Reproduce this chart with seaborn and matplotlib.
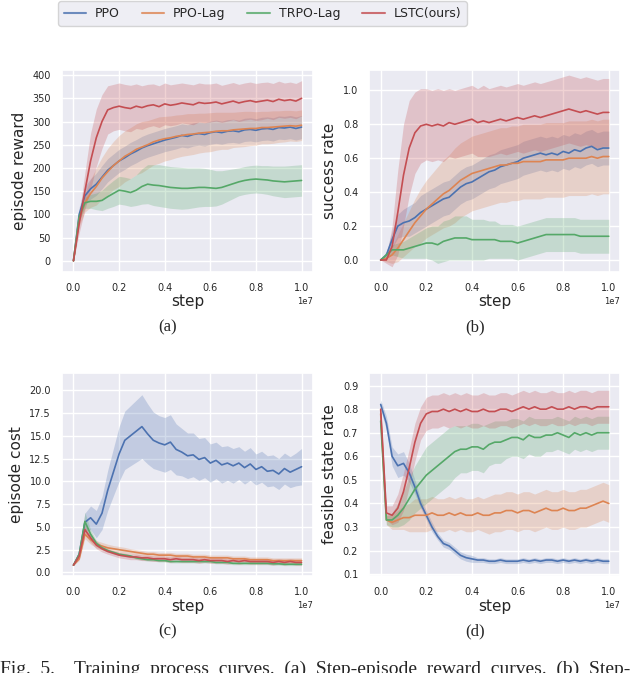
import numpy as np
import matplotlib
matplotlib.use('Agg')
import matplotlib.pyplot as plt
import seaborn as sns
from matplotlib.lines import Line2D

algos = ['PPO', 'PPO-Lag', 'TRPO-Lag', 'LSTC(ours)']

# training step (x 1e7)
steps = [0, 0.025, 0.05, 0.075, 0.1, 0.125, 0.15, 0.175, 0.2, 0.225, 0.25, 0.275, 0.3, 0.325,
         0.35, 0.375, 0.4, 0.425, 0.45, 0.475, 0.5, 0.525, 0.55, 0.575, 0.6, 0.625, 0.65, 0.675,
         0.7, 0.725, 0.75, 0.775, 0.8, 0.825, 0.85, 0.875, 0.9, 0.925, 0.95, 0.975, 1.0]

# (a) episode reward
reward_ppo = [0, 100, 140, 155, 165, 180, 195, 205, 215, 222, 230, 236, 243, 248, 252, 256, 260, 263, 266, 270,
              268, 272, 274, 272, 276, 278, 276, 279, 280, 278, 282, 283, 281, 284, 285, 283, 287, 286, 288, 285, 288]
reward_ppo_sd = [0, 15, 20, 22, 24, 25, 25, 25, 25, 25, 25, 25, 25, 25, 25, 25, 25, 25, 25, 25,
                 25, 25, 25, 25, 25, 25, 25, 25, 25, 25, 25, 25, 25, 25, 25, 25, 25, 25, 25, 25, 25]
reward_ppolag = [0, 90, 125, 145, 160, 178, 192, 205, 215, 225, 232, 240, 245, 250, 256, 260, 263, 265, 268, 270,
                 272, 273, 275, 276, 277, 279, 280, 280, 282, 283, 284, 285, 285, 287, 287, 288, 289, 290, 291, 290, 292]
reward_ppolag_sd = [0, 15, 20, 30, 40, 45, 50, 52, 55, 55, 55, 55, 55, 52, 50, 50, 48, 47, 46, 45,
                    45, 44, 43, 42, 42, 41, 40, 40, 38, 38, 38, 37, 36, 35, 35, 35, 34, 34, 33, 33, 33]
reward_trpolag = [0, 95, 125, 128, 128, 130, 138, 145, 152, 150, 147, 152, 160, 165, 163, 162, 160, 158, 157, 156,
                  156, 157, 158, 158, 157, 156, 158, 162, 166, 170, 173, 175, 176, 175, 174, 172, 171, 170, 171, 172, 173]
reward_trpolag_sd = [0, 10, 12, 15, 18, 22, 25, 28, 30, 30, 30, 33, 38, 42, 44, 45, 45, 45, 45, 45,
                     44, 43, 42, 41, 40, 38, 36, 34, 32, 30, 30, 30, 30, 30, 31, 32, 33, 34, 34, 34, 34]
reward_lstc = [0, 80, 150, 215, 265, 300, 325, 330, 333, 330, 328, 333, 330, 334, 336, 332, 338, 335, 337, 340,
               338, 336, 341, 339, 340, 342, 338, 341, 344, 340, 343, 345, 342, 344, 346, 343, 348, 345, 347, 344, 350]
reward_lstc_sd = [0, 20, 40, 60, 62, 58, 52, 50, 50, 50, 50, 48, 47, 46, 45, 45, 45, 44, 44, 43,
                  43, 43, 42, 42, 41, 41, 40, 40, 40, 40, 40, 40, 40, 40, 39, 39, 39, 38, 38, 38, 38]

# (b) success rate
succ_ppo = [0, 0.03, 0.12, 0.20, 0.22, 0.23, 0.25, 0.28, 0.30, 0.32, 0.34, 0.36, 0.37, 0.40, 0.43, 0.45, 0.46, 0.48, 0.50, 0.52,
            0.53, 0.55, 0.56, 0.57, 0.58, 0.60, 0.61, 0.62, 0.63, 0.62, 0.63, 0.62, 0.64, 0.63, 0.65, 0.64, 0.66, 0.67, 0.65, 0.66, 0.66]
succ_ppo_sd = [0, 0.02, 0.05, 0.07, 0.08, 0.09, 0.09, 0.10, 0.10, 0.10, 0.10, 0.10, 0.10, 0.10, 0.10, 0.10, 0.10, 0.10, 0.10, 0.10,
               0.10, 0.10, 0.10, 0.10, 0.10, 0.10, 0.10, 0.10, 0.10, 0.10, 0.10, 0.10, 0.10, 0.10, 0.10, 0.10, 0.10, 0.10, 0.10, 0.10, 0.10]
succ_ppolag = [0, 0.01, 0.03, 0.07, 0.12, 0.17, 0.22, 0.26, 0.30, 0.33, 0.36, 0.39, 0.41, 0.44, 0.47, 0.49, 0.51, 0.52, 0.53, 0.54,
               0.55, 0.56, 0.56, 0.57, 0.57, 0.58, 0.58, 0.58, 0.58, 0.59, 0.59, 0.59, 0.59, 0.60, 0.60, 0.60, 0.60, 0.61, 0.60, 0.61, 0.61]
succ_ppolag_sd = [0, 0.02, 0.05, 0.08, 0.10, 0.12, 0.14, 0.16, 0.17, 0.18, 0.19, 0.20, 0.21, 0.22, 0.22, 0.22, 0.22, 0.22, 0.22, 0.22,
                  0.22, 0.22, 0.22, 0.22, 0.22, 0.22, 0.22, 0.22, 0.22, 0.22, 0.22, 0.22, 0.22, 0.22, 0.22, 0.22, 0.22, 0.22, 0.22, 0.22, 0.22]
succ_trpolag = [0, 0.03, 0.06, 0.06, 0.06, 0.07, 0.08, 0.09, 0.10, 0.10, 0.09, 0.11, 0.12, 0.13, 0.13, 0.13, 0.12, 0.12, 0.12, 0.12,
                0.12, 0.11, 0.11, 0.11, 0.10, 0.11, 0.12, 0.13, 0.14, 0.15, 0.15, 0.15, 0.15, 0.15, 0.15, 0.14, 0.14, 0.14, 0.14, 0.14, 0.14]
succ_trpolag_sd = [0, 0.02, 0.03, 0.04, 0.05, 0.06, 0.07, 0.08, 0.09, 0.10, 0.11, 0.12, 0.12, 0.13, 0.13, 0.13, 0.12, 0.12, 0.12, 0.11,
                   0.11, 0.10, 0.10, 0.10, 0.10, 0.10, 0.10, 0.10, 0.10, 0.10, 0.10, 0.10, 0.10, 0.10, 0.10, 0.10, 0.10, 0.10, 0.10, 0.10, 0.10]
succ_lstc = [0, 0, 0.08, 0.28, 0.50, 0.66, 0.75, 0.79, 0.80, 0.79, 0.80, 0.79, 0.81, 0.80, 0.81, 0.82, 0.83, 0.81, 0.82, 0.81,
             0.82, 0.83, 0.82, 0.83, 0.84, 0.83, 0.84, 0.85, 0.84, 0.85, 0.86, 0.87, 0.88, 0.89, 0.88, 0.87, 0.88, 0.87, 0.86, 0.87, 0.87]
succ_lstc_sd = [0, 0.02, 0.12, 0.25, 0.30, 0.28, 0.24, 0.22, 0.21, 0.21, 0.21, 0.21, 0.20, 0.20, 0.20, 0.20, 0.20, 0.20, 0.21, 0.20,
                0.20, 0.20, 0.20, 0.20, 0.20, 0.20, 0.20, 0.20, 0.20, 0.20, 0.20, 0.20, 0.20, 0.20, 0.20, 0.20, 0.20, 0.20, 0.20, 0.20, 0.20]

# (c) episode cost
cost_ppo = [0.8, 2.0, 5.5, 6.0, 5.3, 6.5, 9.0, 11.0, 13.0, 14.5, 15.0, 15.5, 16.0, 15.2, 14.5, 14.2, 14.0, 14.3, 13.5, 13.2,
            12.8, 12.9, 12.4, 12.6, 12.0, 12.3, 11.8, 12.0, 11.7, 12.0, 11.5, 11.9, 11.3, 11.6, 11.1, 11.2, 10.8, 11.4, 11.0, 11.3, 11.6]
cost_ppo_sd = [0, 0.5, 1.0, 1.3, 1.5, 1.8, 2.2, 2.6, 3.0, 3.2, 3.3, 3.4, 3.5, 3.3, 3.1, 3.0, 3.0, 3.0, 2.8, 2.6,
               2.5, 2.4, 2.3, 2.2, 2.1, 2.0, 2.0, 1.9, 1.9, 1.8, 1.8, 1.8, 1.7, 1.7, 1.7, 1.7, 1.7, 1.7, 1.7, 1.8, 2.0]
cost_ppolag = [0.8, 1.5, 4.2, 3.6, 3.1, 2.9, 2.7, 2.6, 2.5, 2.4, 2.3, 2.2, 2.1, 2.0, 2.0, 1.9, 1.9, 1.9, 1.8, 1.8,
               1.8, 1.7, 1.7, 1.7, 1.6, 1.6, 1.6, 1.6, 1.5, 1.5, 1.5, 1.4, 1.4, 1.4, 1.4, 1.3, 1.3, 1.3, 1.3, 1.3, 1.3]
cost_ppolag_sd = [0, 0.2, 0.5, 0.5, 0.4, 0.4, 0.4, 0.35, 0.35, 0.35, 0.3, 0.3, 0.3, 0.3, 0.3, 0.3, 0.3, 0.3, 0.3, 0.3,
                  0.3, 0.3, 0.3, 0.3, 0.3, 0.3, 0.3, 0.3, 0.3, 0.3, 0.3, 0.3, 0.3, 0.3, 0.3, 0.3, 0.3, 0.3, 0.3, 0.3, 0.3]
cost_trpolag = [0.8, 2.0, 5.6, 4.2, 3.2, 2.7, 2.4, 2.2, 2.0, 1.9, 1.8, 1.6, 1.5, 1.4, 1.4, 1.3, 1.3, 1.2, 1.2, 1.2,
                1.2, 1.2, 1.2, 1.2, 1.2, 1.1, 1.1, 1.1, 1.0, 1.0, 1.0, 1.0, 1.0, 1.0, 1.0, 0.95, 0.95, 0.9, 0.9, 0.9, 0.9]
cost_trpolag_sd = [0, 0.3, 1.0, 0.5, 0.3, 0.2, 0.15, 0.15, 0.15, 0.15, 0.15, 0.15, 0.15, 0.15, 0.15, 0.15, 0.15, 0.15, 0.15, 0.15,
                   0.15, 0.15, 0.15, 0.15, 0.15, 0.15, 0.15, 0.15, 0.15, 0.15, 0.15, 0.15, 0.15, 0.15, 0.15, 0.15, 0.15, 0.15, 0.15, 0.15, 0.15]
cost_lstc = [0.8, 1.8, 4.7, 3.8, 3.0, 2.6, 2.3, 2.1, 1.9, 1.8, 1.7, 1.7, 1.6, 1.6, 1.5, 1.5, 1.5, 1.4, 1.5, 1.4,
             1.4, 1.4, 1.3, 1.4, 1.3, 1.3, 1.3, 1.2, 1.3, 1.2, 1.3, 1.2, 1.2, 1.2, 1.2, 1.1, 1.2, 1.1, 1.2, 1.1, 1.1]
cost_lstc_sd = [0, 0.3, 0.6, 0.5, 0.4, 0.35, 0.3, 0.3, 0.3, 0.3, 0.3, 0.3, 0.3, 0.3, 0.3, 0.3, 0.3, 0.3, 0.3, 0.3,
                0.3, 0.3, 0.3, 0.3, 0.3, 0.3, 0.3, 0.3, 0.3, 0.3, 0.3, 0.3, 0.3, 0.3, 0.3, 0.3, 0.3, 0.3, 0.3, 0.3, 0.3]

# (d) feasible state rate
feas_ppo = [0.82, 0.74, 0.60, 0.56, 0.57, 0.53, 0.47, 0.40, 0.35, 0.30, 0.26, 0.23, 0.22, 0.20, 0.18, 0.17, 0.165, 0.16, 0.16, 0.155,
            0.155, 0.16, 0.155, 0.155, 0.155, 0.16, 0.155, 0.16, 0.155, 0.16, 0.16, 0.155, 0.16, 0.155, 0.16, 0.155, 0.16, 0.155, 0.16, 0.155, 0.155]
feas_ppo_sd = [0.02, 0.03, 0.04, 0.05, 0.05, 0.04, 0.03, 0.02, 0.02, 0.02, 0.015, 0.015, 0.015, 0.015, 0.015, 0.015, 0.015, 0.01, 0.01, 0.01,
               0.01, 0.01, 0.01, 0.01, 0.01, 0.01, 0.01, 0.01, 0.01, 0.01, 0.01, 0.01, 0.01, 0.01, 0.01, 0.01, 0.01, 0.01, 0.01, 0.01, 0.01]
feas_ppolag = [0.78, 0.33, 0.32, 0.33, 0.34, 0.34, 0.35, 0.35, 0.35, 0.36, 0.35, 0.35, 0.36, 0.35, 0.36, 0.35, 0.35, 0.36, 0.35, 0.35,
               0.36, 0.36, 0.37, 0.37, 0.36, 0.37, 0.37, 0.36, 0.37, 0.38, 0.37, 0.37, 0.38, 0.37, 0.37, 0.38, 0.38, 0.39, 0.40, 0.41, 0.40]
feas_ppolag_sd = [0.02, 0.02, 0.03, 0.04, 0.05, 0.06, 0.07, 0.07, 0.07, 0.07, 0.07, 0.07, 0.07, 0.07, 0.07, 0.07, 0.07, 0.07, 0.07, 0.08,
                  0.08, 0.08, 0.08, 0.08, 0.08, 0.08, 0.08, 0.08, 0.08, 0.08, 0.08, 0.08, 0.08, 0.08, 0.08, 0.08, 0.08, 0.08, 0.08, 0.08, 0.08]
feas_trpolag = [0.75, 0.33, 0.33, 0.35, 0.38, 0.42, 0.46, 0.49, 0.52, 0.54, 0.56, 0.58, 0.60, 0.62, 0.63, 0.63, 0.64, 0.64, 0.63, 0.65,
                0.66, 0.66, 0.67, 0.68, 0.68, 0.67, 0.69, 0.68, 0.68, 0.69, 0.69, 0.70, 0.69, 0.68, 0.70, 0.69, 0.70, 0.69, 0.70, 0.70, 0.70]
feas_trpolag_sd = [0.02, 0.02, 0.03, 0.05, 0.07, 0.09, 0.10, 0.11, 0.12, 0.12, 0.12, 0.12, 0.12, 0.11, 0.10, 0.10, 0.10, 0.10, 0.10, 0.09,
                   0.09, 0.09, 0.08, 0.08, 0.08, 0.08, 0.08, 0.08, 0.08, 0.07, 0.07, 0.07, 0.07, 0.07, 0.07, 0.07, 0.07, 0.07, 0.07, 0.07, 0.07]
feas_lstc = [0.80, 0.36, 0.35, 0.38, 0.45, 0.55, 0.66, 0.74, 0.78, 0.79, 0.79, 0.80, 0.79, 0.80, 0.79, 0.80, 0.79, 0.79, 0.80, 0.79,
             0.79, 0.80, 0.80, 0.79, 0.80, 0.81, 0.80, 0.81, 0.80, 0.80, 0.81, 0.80, 0.80, 0.81, 0.80, 0.81, 0.81, 0.80, 0.81, 0.81, 0.81]
feas_lstc_sd = [0.02, 0.03, 0.04, 0.06, 0.08, 0.08, 0.08, 0.07, 0.07, 0.07, 0.07, 0.07, 0.07, 0.07, 0.07, 0.07, 0.07, 0.07, 0.07, 0.07,
                0.07, 0.07, 0.07, 0.07, 0.07, 0.07, 0.07, 0.07, 0.07, 0.07, 0.07, 0.07, 0.07, 0.07, 0.07, 0.07, 0.07, 0.07, 0.07, 0.07, 0.07]

sns.set_theme(style='darkgrid')
colors = sns.color_palette('deep')[:4]

fig = plt.figure(figsize=(6.4, 6.73), dpi=100)

panels = [
    ('episode reward', [reward_ppo, reward_ppolag, reward_trpolag, reward_lstc],
     [reward_ppo_sd, reward_ppolag_sd, reward_trpolag_sd, reward_lstc_sd], (-24, 411), [0, 50, 100, 150, 200, 250, 300, 350, 400]),
    ('success rate', [succ_ppo, succ_ppolag, succ_trpolag, succ_lstc],
     [succ_ppo_sd, succ_ppolag_sd, succ_trpolag_sd, succ_lstc_sd], (-0.07, 1.12), [0, 0.2, 0.4, 0.6, 0.8, 1.0]),
    ('episode cost', [cost_ppo, cost_ppolag, cost_trpolag, cost_lstc],
     [cost_ppo_sd, cost_ppolag_sd, cost_trpolag_sd, cost_lstc_sd], (-0.4, 21.9), [0, 2.5, 5, 7.5, 10, 12.5, 15, 17.5, 20]),
    ('feasible state rate', [feas_ppo, feas_ppolag, feas_trpolag, feas_lstc],
     [feas_ppo_sd, feas_ppolag_sd, feas_trpolag_sd, feas_lstc_sd], (0.092, 0.954), [0.1, 0.2, 0.3, 0.4, 0.5, 0.6, 0.7, 0.8, 0.9]),
]
rects = [[0.097, 0.596, 0.392, 0.300], [0.577, 0.596, 0.392, 0.300],
         [0.097, 0.144, 0.392, 0.302], [0.577, 0.144, 0.392, 0.302]]
tags = ['(a)', '(b)', '(c)', '(d)']

x = np.array(steps) * 1e7
for (ylab, means, sds, ylim, yticks), rect, tag in zip(panels, rects, tags):
    ax = fig.add_axes(rect)
    for m, s, c in zip(means, sds, colors):
        m = np.array(m)
        s = np.array(s)
        ax.fill_between(x, m - s, m + s, color=c, alpha=0.25, lw=0)
        sns.lineplot(x=x, y=m, ax=ax, color=c, lw=1.2)
    ax.set_xlim(-0.05e7, 1.05e7)
    ax.set_ylim(*ylim)
    ax.set_yticks(yticks)
    ax.set_xticks([0, 0.2e7, 0.4e7, 0.6e7, 0.8e7, 1.0e7])
    ax.tick_params(labelsize=7, pad=2)
    ax.xaxis.get_offset_text().set_fontsize(6)
    ax.set_xlabel('step', fontsize=11, labelpad=1)
    ax.set_ylabel(ylab, fontsize=11, labelpad=4)
    fig.text(rect[0] + rect[2] * 0.42, rect[1] - 0.082, tag, ha='center', va='center',
             fontsize=12, family='Liberation Serif')

handles = [Line2D([0], [0], color=c, lw=1.5, alpha=0.8) for c in colors]
fig.legend(handles, algos, loc='upper center', bbox_to_anchor=(0.41, 1.0), ncol=4,
           fontsize=9, frameon=True, handlelength=1.8, handletextpad=0.7,
           columnspacing=1.75, borderaxespad=0.1, borderpad=0.45)

fig.text(0.0, -0.002, 'Fig.  5.    Training  process  curves.  (a)  Step-episode  reward  curves.  (b)  Step-',
         ha='left', va='baseline', fontsize=14, family='Liberation Serif')

fig.savefig('out.png', dpi=100)
